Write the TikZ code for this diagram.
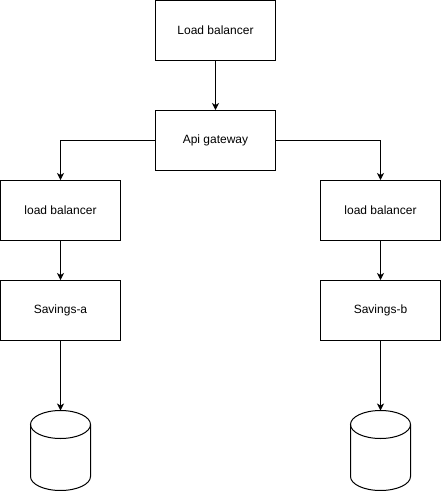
\documentclass[tikz,border=0pt]{standalone}
\usepackage{fontspec}
\setmainfont{Liberation Sans}
\usetikzlibrary{arrows.meta}

\begin{document}
\begin{tikzpicture}[x=1pt, y=-1pt, line width=1pt,
    box/.style={draw, rectangle, minimum width=120pt, minimum height=60pt, inner sep=0pt, font=\fontsize{12}{14}\selectfont},
    >={Stealth[length=7pt, width=7pt, inset=2pt]}]
    \useasboundingbox (0,0) rectangle (441,491);
    \node [box] (lb) at (215.5, 30.5) {Load balancer};
    \node [box] (gw) at (215.5, 140.5) {Api gateway};
    \node [box] (lba) at (60.5, 210.5) {load balancer};
    \node [box] (lbb) at (380.5, 210.5) {load balancer};
    \node [box] (sa) at (60.5, 310.5) {Savings-a};
    \node [box] (sb) at (380.5, 310.5) {Savings-b};
    \coordinate (dba) at (60.5, 410.5);
    \coordinate (dbb) at (380.5, 410.5);
    \draw [->] (lb) -- (gw);
    \draw [->] (gw.west) -| (lba);
    \draw [->] (gw.east) -| (lbb);
    \draw [->] (lba) -- (sa);
    \draw [->] (lbb) -- (sb);
    \draw [->] (sa) -- (dba);
    \draw [->] (sb) -- (dbb);
    \foreach \cx in {60.5, 380.5} {
      \draw (\cx, 424.5) ellipse [x radius=30, y radius=14];
      \draw (\cx-30, 424.5) -- (\cx-30, 476.5) arc (180:0:30 and 14) -- (\cx+30, 424.5);
    }
  \end{tikzpicture}
\end{document}
